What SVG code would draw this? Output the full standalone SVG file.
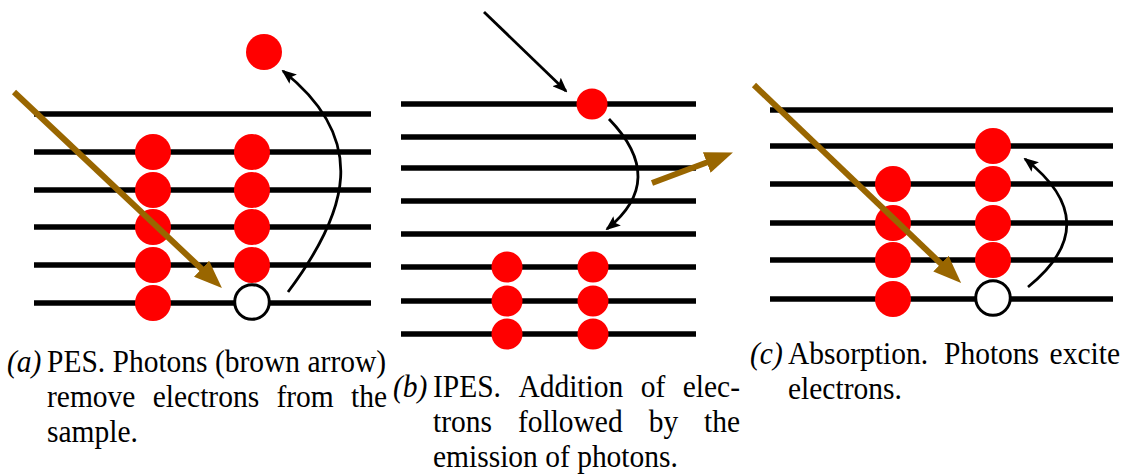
<svg xmlns="http://www.w3.org/2000/svg" width="1129" height="475" viewBox="0 0 1129 475">
<style>
.lv{stroke:#000;stroke-width:5.5;fill:none}
.e{fill:#ff0000}
.h{fill:#fff;stroke:#000;stroke-width:3}
.ph{stroke:#996600;stroke-width:6;fill:none;marker-end:url(#bh)}
.el{stroke:#000;stroke-width:2.8;fill:none;marker-end:url(#kh)}
text{font-family:"Liberation Serif","Times New Roman",serif;font-size:29.5px;fill:#000}
.lab{font-style:italic}
</style>
<defs>
<marker id="bh" viewBox="0 0 28 22" refX="5" refY="11" markerWidth="28" markerHeight="22" markerUnits="userSpaceOnUse" orient="auto">
<path d="M0,0 L28,11 L0,22 z" fill="#996600"/>
</marker>
<marker id="kh" viewBox="0 0 15 12" refX="13" refY="6" markerWidth="15" markerHeight="12" markerUnits="userSpaceOnUse" orient="auto">
<path d="M0,0 L15,6 L0,12 L3,6 z" fill="#000"/>
</marker>
</defs>
<rect width="1129" height="475" fill="#fff"/>

<g id="panel-a-levels">
<line class="lv" x1="34" y1="114" x2="371" y2="114"/>
<line class="lv" x1="34" y1="152" x2="371" y2="152"/>
<line class="lv" x1="34" y1="190" x2="371" y2="190"/>
<line class="lv" x1="34" y1="227" x2="371" y2="227"/>
<line class="lv" x1="34" y1="265" x2="371" y2="265"/>
<line class="lv" x1="34" y1="303" x2="371" y2="303"/>
</g>
<g id="panel-a-electrons">
<circle class="e" cx="153" cy="152" r="18"/>
<circle class="e" cx="153" cy="190" r="18"/>
<circle class="e" cx="153" cy="227" r="18"/>
<circle class="e" cx="153" cy="265" r="18"/>
<circle class="e" cx="153" cy="303" r="18"/>
<circle class="e" cx="252" cy="152" r="18"/>
<circle class="e" cx="252" cy="190" r="18"/>
<circle class="e" cx="252" cy="227" r="18"/>
<circle class="e" cx="252" cy="265" r="18"/>
<circle class="h" cx="252" cy="302" r="17.3"/>
<circle class="e" cx="264" cy="52" r="18"/>
</g>

<g id="panel-b-levels">
<line class="lv" x1="401" y1="104" x2="696" y2="104"/>
<line class="lv" x1="401" y1="137" x2="696" y2="137"/>
<line class="lv" x1="401" y1="168" x2="696" y2="168"/>
<line class="lv" x1="401" y1="201" x2="696" y2="201"/>
<line class="lv" x1="401" y1="234" x2="696" y2="234"/>
<line class="lv" x1="401" y1="267" x2="696" y2="267"/>
<line class="lv" x1="401" y1="301" x2="696" y2="301"/>
<line class="lv" x1="401" y1="334" x2="696" y2="334"/>
</g>
<g id="panel-b-electrons">
<circle class="e" cx="592" cy="104" r="15.5"/>
<circle class="e" cx="507" cy="267" r="15.5"/>
<circle class="e" cx="507" cy="301" r="15.5"/>
<circle class="e" cx="507" cy="334" r="15.5"/>
<circle class="e" cx="593" cy="267" r="15.5"/>
<circle class="e" cx="593" cy="301" r="15.5"/>
<circle class="e" cx="593" cy="334" r="15.5"/>
</g>

<g id="panel-c-levels">
<line class="lv" x1="770" y1="110" x2="1113" y2="110"/>
<line class="lv" x1="770" y1="146" x2="1113" y2="146"/>
<line class="lv" x1="770" y1="184" x2="1113" y2="184"/>
<line class="lv" x1="770" y1="223" x2="1113" y2="223"/>
<line class="lv" x1="770" y1="260" x2="1113" y2="260"/>
<line class="lv" x1="770" y1="299" x2="1113" y2="299"/>
</g>
<g id="panel-c-electrons">
<circle class="e" cx="893" cy="184" r="18"/>
<circle class="e" cx="893" cy="223" r="18"/>
<circle class="e" cx="893" cy="260" r="18"/>
<circle class="e" cx="893" cy="299" r="18"/>
<circle class="e" cx="993" cy="146" r="18"/>
<circle class="e" cx="993" cy="184" r="18"/>
<circle class="e" cx="993" cy="223" r="18"/>
<circle class="e" cx="993" cy="260" r="18"/>
<circle class="h" cx="993" cy="298" r="17.3"/>
</g>

<g id="connectors">
<line class="ph" x1="14" y1="92" x2="205.2" y2="272.2"/>
<path class="el" d="M288,292 C348,212 370,140 283,71"/>
<line class="el" x1="484" y1="12" x2="566" y2="91"/>
<path class="el" d="M609,119 Q668,180 607,229"/>
<line class="ph" x1="652" y1="183" x2="711.4" y2="160.7"/>
<line class="ph" x1="754" y1="85" x2="944.5" y2="267.1"/>
<path class="el" d="M1028,287 Q1107,223 1025,159"/>
</g>

<g id="caption-a">
<text class="lab" x="7" y="372" transform="matrix(1,0,0,1.08,0,-29.76)">(a)</text>
<text x="47" y="372" transform="matrix(1,0,0,1.08,0,-29.76)">PES. Photons (brown arrow)</text>
<text y="407" transform="matrix(1,0,0,1.08,0,-32.56)"><tspan x="47">remove</tspan><tspan x="152.7">electrons</tspan><tspan x="276.4">from</tspan><tspan x="351">the</tspan></text>
<text x="47" y="442" transform="matrix(1,0,0,1.08,0,-35.36)">sample.</text>
</g>
<g id="caption-b">
<text class="lab" x="393" y="397" transform="matrix(1,0,0,1.08,0,-31.76)">(b)</text>
<text y="397" transform="matrix(1,0,0,1.08,0,-31.76)"><tspan x="433">IPES.</tspan><tspan x="518.4">Addition</tspan><tspan x="640.7">of</tspan><tspan x="682.7">elec-</tspan></text>
<text y="432" transform="matrix(1,0,0,1.08,0,-34.56)"><tspan x="433">trons</tspan><tspan x="517.9">followed</tspan><tspan x="648.7">by</tspan><tspan x="704">the</tspan></text>
<text x="433" y="467" transform="matrix(1,0,0,1.08,0,-37.36)">emission of photons.</text>
</g>
<g id="caption-c">
<text class="lab" x="750" y="364" transform="matrix(1,0,0,1.08,0,-29.12)">(c)</text>
<text y="364" transform="matrix(1,0,0,1.08,0,-29.12)"><tspan x="788">Absorption.</tspan><tspan x="944">Photons</tspan><tspan x="1049.6">excite</tspan></text>
<text x="788" y="399" transform="matrix(1,0,0,1.08,0,-31.92)">electrons.</text>
</g>
</svg>
